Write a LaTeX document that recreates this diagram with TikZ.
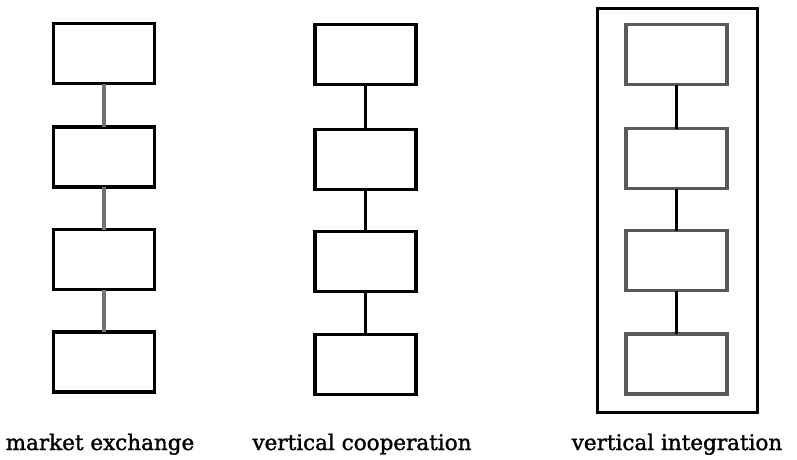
\documentclass[tikz,border=0pt]{standalone}
\usepackage{fontspec}
\setmainfont[FakeBold=1.4]{DejaVu Serif}
\begin{document}
\begin{tikzpicture}[x=1pt,y=-1pt,
  unit/.style={draw=black, line width=3.6pt, minimum width=101pt, minimum height=60pt, inner sep=0pt, outer sep=0pt},
  grayunit/.style={unit, draw=black!65},
  link/.style={line width=3.8pt, black},
  graylink/.style={link, draw=black!55},
  frame/.style={draw=black, line width=3.2pt},
  lab/.style={anchor=base, inner sep=0pt, font=\fontsize{21.5}{26}\selectfont}]
\useasboundingbox (0,0) rectangle (797,459);
% column 1: market exchange
\node[unit] (a1) at (104,53.5) {};
\node[unit] (a2) at (104,157) {};
\node[unit] (a3) at (104,259.5) {};
\node[unit] (a4) at (104,362) {};
\draw[graylink] (a1.south) -- (a2.north);
\draw[graylink] (a2.south) -- (a3.north);
\draw[graylink] (a3.south) -- (a4.north);
% column 2: vertical cooperation
\node[unit] (b1) at (365.5,54.5) {};
\node[unit] (b2) at (365.5,159.5) {};
\node[unit] (b3) at (365.5,261.5) {};
\node[unit] (b4) at (365.5,364.5) {};
\draw[link] (b1.south) -- (b2.north);
\draw[link] (b2.south) -- (b3.north);
\draw[link] (b3.south) -- (b4.north);
% column 3: vertical integration
\node[frame, minimum width=160pt, minimum height=404pt, inner sep=0pt, outer sep=0pt] (fr) at (677.5,210.5) {};
\node[grayunit] (c1) at (676.5,54.5) {};
\node[grayunit] (c2) at (676.5,158.5) {};
\node[grayunit] (c3) at (676.5,260.5) {};
\node[grayunit] (c4) at (676.5,364) {};
\draw[link] (c1.south) -- (c2.north);
\draw[link] (c2.south) -- (c3.north);
\draw[link] (c3.south) -- (c4.north);
% labels
\node[lab] (la) at (100,450) {market exchange};
\node[lab] (lb) at (362,450) {vertical cooperation};
\node[lab] (lc) at (677,450) {vertical integration};
\end{tikzpicture}
\end{document}
